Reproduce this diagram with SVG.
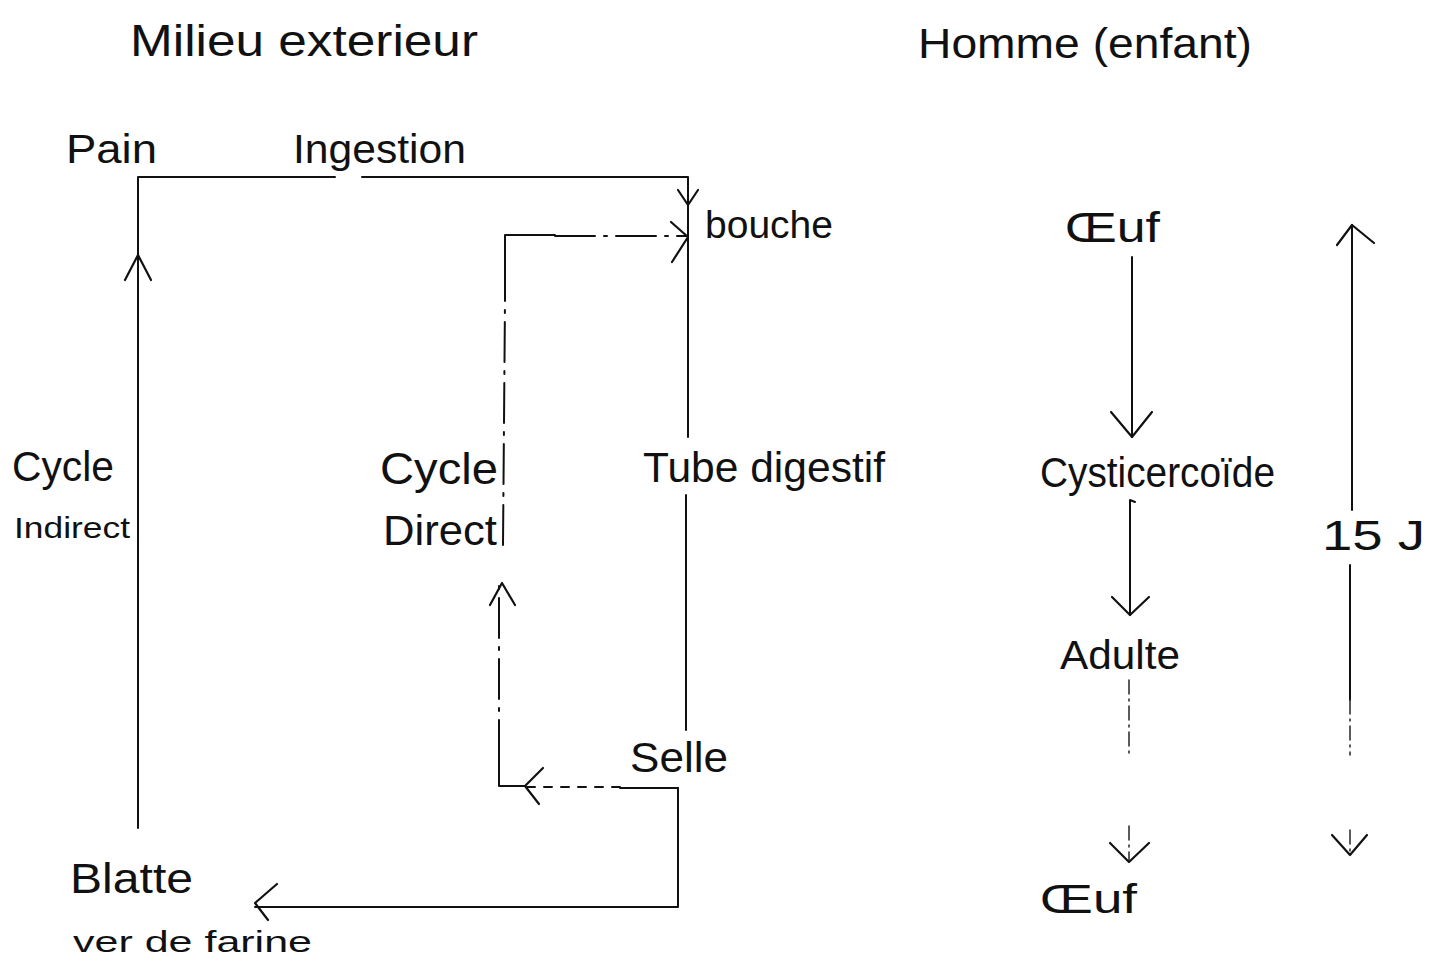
<svg xmlns="http://www.w3.org/2000/svg" width="1447" height="961" viewBox="0 0 1447 961">
<style>
text{font-family:"Liberation Sans","DejaVu Sans",sans-serif;fill:#111;}
.ln{fill:none;stroke:#111;stroke-width:2;stroke-linecap:round;stroke-linejoin:round;}
.dd{stroke-dasharray:40 9 3 9;}
.dt{stroke-dasharray:8 9;}
.fd{stroke:#333;stroke-width:1.6;stroke-dasharray:14 5 2 5;}
.ah{fill:none;stroke:#111;stroke-width:2.2;stroke-linecap:round;stroke-linejoin:round;}
</style>
<rect width="1447" height="961" fill="#fff"/>
<g id="titles">
<text x="130" y="56" font-size="44" textLength="348" lengthAdjust="spacingAndGlyphs">Milieu exterieur</text>
<text x="918" y="58" font-size="42" textLength="334" lengthAdjust="spacingAndGlyphs">Homme (enfant)</text>
</g>
<g id="pain"><text x="66" y="163" font-size="40" textLength="91" lengthAdjust="spacingAndGlyphs">Pain</text></g>
<g id="ingestion"><text x="293" y="163" font-size="40" textLength="173" lengthAdjust="spacingAndGlyphs">Ingestion</text></g>
<g id="bouche"><text x="705" y="238" font-size="38" textLength="128" lengthAdjust="spacingAndGlyphs">bouche</text></g>
<g id="cycle-indirect">
<text x="12" y="481" font-size="42" textLength="102" lengthAdjust="spacingAndGlyphs">Cycle</text>
<text x="14" y="538" font-size="30" textLength="116" lengthAdjust="spacingAndGlyphs">Indirect</text>
</g>
<g id="cycle-direct">
<text x="380" y="484" font-size="44" textLength="118" lengthAdjust="spacingAndGlyphs">Cycle</text>
<text x="383" y="545" font-size="42" textLength="114" lengthAdjust="spacingAndGlyphs">Direct</text>
</g>
<g id="tube"><text x="643" y="482" font-size="42" textLength="242" lengthAdjust="spacingAndGlyphs">Tube digestif</text></g>
<g id="selle"><text x="630" y="772" font-size="42" textLength="98" lengthAdjust="spacingAndGlyphs">Selle</text></g>
<g id="blatte">
<text x="70" y="893" font-size="42" textLength="123" lengthAdjust="spacingAndGlyphs">Blatte</text>
<text x="73" y="952" font-size="30" textLength="239" lengthAdjust="spacingAndGlyphs">ver de farine</text>
</g>
<g id="oeuf1"><text x="1065" y="242" font-size="42" textLength="95" lengthAdjust="spacingAndGlyphs">Œuf</text></g>
<g id="cysticercoide"><text x="1040" y="487" font-size="42" textLength="235" lengthAdjust="spacingAndGlyphs">Cysticercoïde</text></g>
<g id="adulte"><text x="1060" y="669" font-size="40" textLength="120" lengthAdjust="spacingAndGlyphs">Adulte</text></g>
<g id="oeuf2"><text x="1040" y="913" font-size="40" textLength="97" lengthAdjust="spacingAndGlyphs">Œuf</text></g>
<g id="duree"><text x="1322" y="550" font-size="42" textLength="103" lengthAdjust="spacingAndGlyphs">15 J</text></g>
<g id="connectors">
<!-- cycle indirect -->
<path class="ln" d="M138 828 V177 H335"/>
<path class="ah" d="M125 280 L138 255 L151 280"/>
<path class="ln" d="M362 177 H688 V205"/>
<path class="ah" d="M678 190 L688 205 L698 190"/>
<!-- tube digestif -->
<path class="ln" d="M688 205 V437"/>
<path class="ln" d="M686 495 V730"/>
<!-- selle to blatte -->
<path class="ln" d="M678 788 V907 H255"/>
<path class="ah" d="M277 884 L255 903 L268 920"/>
<!-- cycle direct -->
<path class="ln" d="M678 788 H620"/>
<path class="ln dt" d="M620 787 H525"/>
<path class="ln" d="M525 786 H499 V760"/>
<path class="ln dd" d="M499 760 V582"/>
<path class="ah" d="M543 768 L525 786 L539 804"/>
<path class="ah" d="M490 605 L502 583 L515 605"/>
<path class="ln dd" d="M503 545 L505 300"/>
<path class="ln" d="M505 300 V235 H555"/>
<path class="ln dd" d="M555 236 H688"/>
<path class="ah" d="M671 222 L688 237 L672 262"/>
<!-- right column -->
<path class="ln" d="M1132 257 V437"/>
<path class="ah" d="M1111 412 L1132 437 L1152 412"/>
<path class="ln" d="M1135 502 L1130 500 V615"/>
<path class="ah" d="M1112 597 L1130 615 L1149 597"/>
<path class="ln fd" d="M1129 680 V755"/>
<path class="ln fd" d="M1129 826 V860"/>
<path class="ah" d="M1110 843 L1129 862 L1149 843"/>
<!-- 15 J -->
<path class="ln" d="M1352 510 V225"/>
<path class="ah" d="M1337 245 L1352 225 L1374 243"/>
<path class="ln" d="M1350 565 V700"/>
<path class="ln fd" d="M1350 700 V755"/>
<path class="ln fd" d="M1350 830 V855"/>
<path class="ah" d="M1332 835 L1350 855 L1367 835"/>
</g>
</svg>
